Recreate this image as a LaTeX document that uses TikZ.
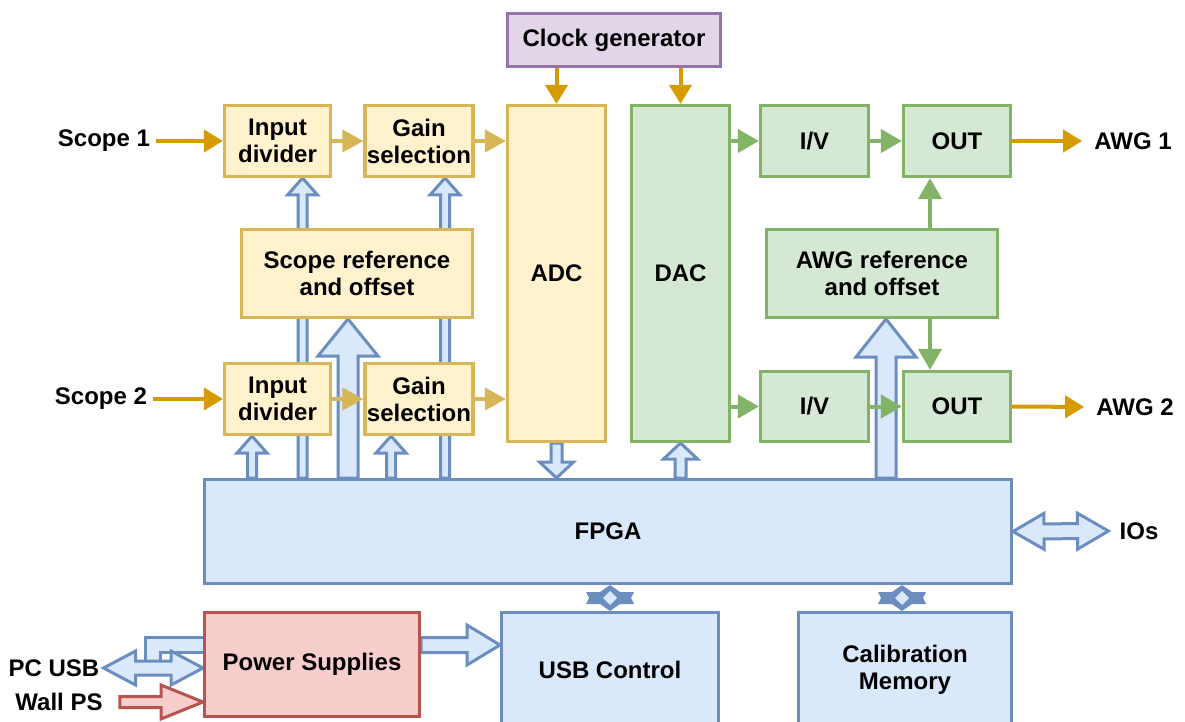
\documentclass[tikz,border=0pt]{standalone}
\usepackage{fontspec}
\setmainfont{Liberation Sans}
\usetikzlibrary{calc,arrows.meta}
\definecolor{ostroke}{HTML}{D79B00}
\definecolor{ystroke}{HTML}{D6B656}
\definecolor{yfill}{HTML}{FFF2CC}
\definecolor{gstroke}{HTML}{82B366}
\definecolor{gfill}{HTML}{D5E8D4}
\definecolor{bstroke}{HTML}{6C8EBF}
\definecolor{bfill}{HTML}{DAE8FC}
\definecolor{rstroke}{HTML}{B85450}
\definecolor{rfill}{HTML}{F8CECC}
\definecolor{pstroke}{HTML}{9673A6}
\definecolor{pfill}{HTML}{E1D5E7}
\tikzset{
  txt/.style={font=\fontsize{24}{27}\selectfont\bfseries, text=black},
  box/.style={txt, draw, line width=3.2pt, inner sep=2pt, align=center},
  ybox/.style={box, draw=ystroke, fill=yfill},
  gbox/.style={box, draw=gstroke, fill=gfill},
  bbox/.style={box, draw=bstroke, fill=bfill},
  rbox/.style={box, draw=rstroke, fill=rfill},
  pbox/.style={box, draw=pstroke, fill=pfill},
  lbl/.style={txt, inner sep=4pt},
  oarr/.style={draw=ostroke, line width=4pt, -{Triangle[length=19pt,width=22pt]}},
  yarr/.style={draw=ystroke, line width=4pt, -{Triangle[length=21pt,width=22pt]}},
  garr/.style={draw=gstroke, line width=4pt, -{Triangle[length=21pt,width=23pt]}},
  blk/.style={draw=bstroke, fill=bfill, line width=3pt},
  rblk/.style={draw=rstroke, fill=rfill, line width=3pt},
}
% single block arrow: [style]{start}{end}{shaft half}{head half}{head length}
\newcommand\blockarrow[6][blk]{%
  \coordinate (bas) at #2;
  \coordinate (bae) at #3;
  \coordinate (bah) at ($(bae)!#6!(bas)$);
  \draw[#1] ($(bas)!#4!90:(bae)$) -- ($(bah)!#4!90:(bae)$) -- ($(bah)!#5!90:(bae)$)
     -- (bae) -- ($(bah)!#5!-90:(bae)$) -- ($(bah)!#4!-90:(bae)$) -- ($(bas)!#4!-90:(bae)$) -- cycle;
}
% double block arrow
\newcommand\dblarrow[6][blk]{%
  \coordinate (bas) at #2;
  \coordinate (bae) at #3;
  \coordinate (bh1) at ($(bae)!#6!(bas)$);
  \coordinate (bh2) at ($(bas)!#6!(bae)$);
  \draw[#1] (bas) -- ($(bh2)!#5!90:(bae)$) -- ($(bh2)!#4!90:(bae)$) -- ($(bh1)!#4!90:(bae)$)
     -- ($(bh1)!#5!90:(bae)$) -- (bae) -- ($(bh1)!#5!-90:(bae)$) -- ($(bh1)!#4!-90:(bae)$)
     -- ($(bh2)!#4!-90:(bae)$) -- ($(bh2)!#5!-90:(bae)$) -- cycle;
}
% squeezed two-way block arrow between two boxes
\newcommand\stub[1]{%
  \begin{scope}[shift={#1}]
    \fill[bstroke] (-24,-6) -- (-10,-6) -- (0,-13) -- (10,-6) -- (24,-6) -- (21,0) -- (24,6)
      -- (10,6) -- (0,13) -- (-10,6) -- (-24,6) -- (-21,0) -- cycle;
    \fill[bfill] (-7,0) -- (0,-7) -- (7,0) -- (0,7) -- cycle;
  \end{scope}}
\begin{document}
\begin{tikzpicture}[x=1pt,y=-1pt]
\useasboundingbox (0,0) rectangle (1185,722);
% labels
\node[lbl] (sc1) at (104,141) {Scope 1};
\node[lbl] (sc2) at (101,399) {Scope 2};
\node[lbl] (awg1) at (1133,141) {AWG 1};
\node[lbl] (awg2) at (1135,407) {AWG 2};
\node[lbl] (ios) at (1139,531) {IOs};
\node[lbl] (pcusb) at (54,668) {PC USB};
\node[lbl] (wallps) at (59,702) {Wall PS};
% invisible outlines of the boxes, so that the block arrows can be drawn behind them
\begin{scope}[every node/.style={inner sep=0pt, outer sep=0pt}]
\node[minimum width=810pt, minimum height=107pt] (fpgaB) at (608,531.5) {};
\node[minimum width=109pt, minimum height=74pt] (id1B) at (277.5,141) {};
\node[minimum width=110pt, minimum height=74pt] (gs1B) at (419,141) {};
\node[minimum width=109pt, minimum height=74pt] (id2B) at (277.5,399) {};
\node[minimum width=110pt, minimum height=74pt] (gs2B) at (419,399) {};
\node[minimum width=234pt, minimum height=91pt] (srefB) at (357,273.5) {};
\node[minimum width=234pt, minimum height=91pt] (arefB) at (882,273.5) {};
\node[minimum width=101pt, minimum height=339pt] (adcB) at (556.5,273.5) {};
\node[minimum width=101pt, minimum height=339pt] (dacB) at (680.5,273.5) {};
\node[minimum width=218pt, minimum height=107pt] (psuB) at (312,664.5) {};
\node[minimum width=220pt, minimum height=117pt] (usbB) at (610,669.5) {};
\end{scope}
\blockarrow{(252,0 |- fpgaB.north)}{(252,0 |- id2B.south)}{4.5pt}{15pt}{17pt}
\blockarrow{(302.5,0 |- fpgaB.north)}{(302.5,0 |- id1B.south)}{4.5pt}{15pt}{17pt}
\blockarrow{(348,0 |- fpgaB.north)}{(348,0 |- srefB.south)}{10pt}{30pt}{37pt}
\blockarrow{(391,0 |- fpgaB.north)}{(391,0 |- gs2B.south)}{4.5pt}{15pt}{17pt}
\blockarrow{(445,0 |- fpgaB.north)}{(445,0 |- gs1B.south)}{4.5pt}{15pt}{17pt}
\blockarrow{(adcB.south)}{(adcB.south |- fpgaB.north)}{5.5pt}{17pt}{16pt}
\blockarrow{(dacB.south |- fpgaB.north)}{(dacB.south)}{5.5pt}{17pt}{16pt}
\blockarrow{(886,0 |- fpgaB.north)}{(886,0 |- arefB.south)}{10pt}{30pt}{38pt}
\dblarrow{(fpgaB.east)}{($(ios.west)+(-7,0)$)}{7.5pt}{18pt}{31pt}
\blockarrow{(psuB.east |- 0,645)}{(usbB.west |- 0,645)}{7.5pt}{20pt}{33pt}
\draw[blk] (psuB.west |- 0,637) -- (145,637) -- (145,662) -- (160,662) -- (160,652) -- (psuB.west |- 0,652);
\dblarrow{(pcusb.east)}{(psuB.west |- 0,668)}{7pt}{17pt}{32pt}
\blockarrow[rblk]{($(wallps.east)+(13,0)$)}{(psuB.west |- 0,702)}{5.5pt}{17pt}{42pt}
% ---- boxes
\node[pbox, minimum width=213pt, minimum height=53pt] (clk) at (614,40) {Clock generator};
\node[ybox, minimum width=98pt, minimum height=336pt] (adc) at (556.5,273.5) {ADC};
\node[gbox, minimum width=98pt, minimum height=336pt] (dac) at (680.5,273.5) {DAC};
\node[ybox, minimum width=106pt, minimum height=71pt] (id1) at (277.5,141) {Input\\divider};
\node[ybox, minimum width=107pt, minimum height=71pt] (gs1) at (419,141) {Gain\\selection};
\node[ybox, minimum width=106pt, minimum height=71pt] (id2) at (277.5,399) {Input\\divider};
\node[ybox, minimum width=107pt, minimum height=71pt] (gs2) at (419,399) {Gain\\selection};
\node[ybox, minimum width=231pt, minimum height=88pt] (sref) at (357,273.5) {Scope reference\\and offset};
\node[gbox, minimum width=108pt, minimum height=71pt] (iv1) at (814.5,141) {I/V};
\node[gbox, minimum width=107pt, minimum height=71pt] (out1) at (957,141) {OUT};
\node[gbox, minimum width=231pt, minimum height=88pt] (aref) at (882,273.5) {AWG reference\\and offset};
\node[gbox, minimum width=108pt, minimum height=70pt] (iv2) at (814.5,406.5) {I/V};
\node[gbox, minimum width=107pt, minimum height=70pt] (out2) at (957,406.5) {OUT};
\node[bbox, minimum width=807pt, minimum height=104pt] (fpga) at (608,531.5) {FPGA};
\node[rbox, minimum width=215pt, minimum height=104pt] (psu) at (312,664.5) {Power Supplies};
\node[bbox, minimum width=217pt, minimum height=114pt] (usb) at (610,669.5) {USB Control};
\node[bbox, minimum width=213pt, minimum height=114pt] (cal) at (905,669.5) {Calibration\\Memory};
% ---- thin arrows
\draw[oarr, shorten <=2pt] (sc1.east) -- (id1.west);
\draw[oarr, shorten <=2pt] (sc2.east) -- (id2.west);
\draw[yarr] (id1.east) -- (gs1.west);
\draw[yarr] (gs1.east) -- (gs1.east -| adc.west);
\draw[yarr] (id2.east) -- (gs2.west);
\draw[yarr] (gs2.east) -- (gs2.east -| adc.west);
\draw[oarr] (clk.south -| adc.north) -- (adc.north);
\draw[oarr] (clk.south -| dac.north) -- (dac.north);
\draw[garr] (dac.east |- iv1.west) -- (iv1.west);
\draw[garr] (dac.east |- iv2.west) -- (iv2.west);
\draw[garr] (iv1.east) -- (out1.west);
\draw[garr] (iv2.east) -- (out2.west);
\draw[garr] (930,0 |- aref.north) -- (930,0 |- out1.south);
\draw[garr] (930,0 |- aref.south) -- (930,0 |- out2.north);
\draw[oarr, shorten >=8pt] (out1.east) -- (awg1.west);
\draw[oarr, shorten >=8pt] (out2.east) -- (awg2.west);
% ---- two-way stubs FPGA <-> USB Control / Calibration Memory
\stub{($(610,0 |- fpga.south)!0.5!(610,0 |- usb.north)$)}
\stub{($(902,0 |- fpga.south)!0.5!(902,0 |- cal.north)$)}
\end{tikzpicture}
\end{document}
